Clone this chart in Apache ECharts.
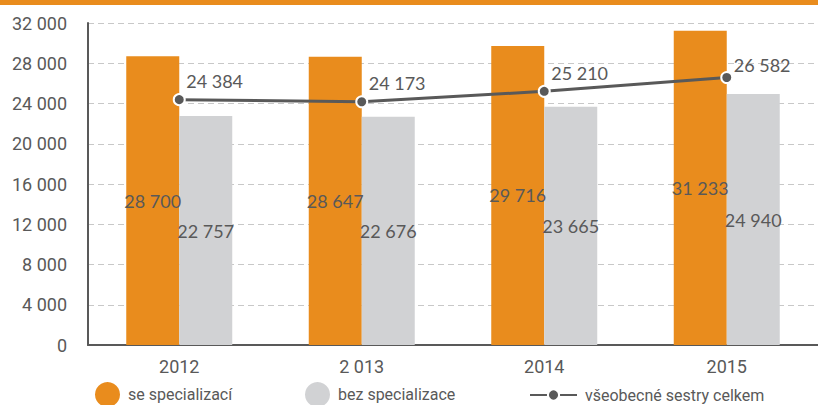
<!DOCTYPE html>
<html>
<head>
<meta charset="utf-8">
<script src="https://cdn.jsdelivr.net/npm/echarts@6/dist/echarts.min.js"></script>
<style>
  html, body { margin: 0; padding: 0; background: #fff; }
  #chart { width: 818px; height: 405px; }
</style>
</head>
<body>
<div id="chart"></div>
<script>
const years = ["2012", "2 013", "2014", "2015"];
const seSpecializaci = [28700, 28647, 29716, 31233];
const bezSpecializace = [22757, 22676, 23665, 24940];
const sestryCelkem = [24384, 24173, 25210, 26582];

const orange = "#E98C1D";
const grey = "#D1D2D4";
const dark = "#595959";

const fmt = (v) => {
  const s = String(Math.round(v));
  return s.replace(/\B(?=(\d{3})+(?!\d))/g, " ");
};

const chart = echarts.init(document.getElementById("chart"), null, { renderer: "svg" });

const legendText = { color: dark, fontFamily: "Roboto", fontSize: 16, padding: [0, 0, 0, 3] };

// last line label sits a bit closer to its point in the original
const lineData = sestryCelkem.map((v, i) =>
  i === sestryCelkem.length - 1 ? { value: v, label: { offset: [7, 8] } } : v
);

chart.setOption({
  animation: false,
  graphic: [
    { type: "rect", left: 0, top: 0, shape: { width: 818, height: 5 }, style: { fill: orange } }
  ],
  grid: { left: 88, right: -7, top: 23, bottom: 60, containLabel: false },
  legend: [
    { data: ["se specializací"], left: 95, top: 382, padding: 0, icon: "circle", itemWidth: 25, itemHeight: 25, textStyle: legendText },
    { data: ["bez specializace"], left: 305, top: 382, padding: 0, icon: "circle", itemWidth: 25, itemHeight: 25, textStyle: legendText },
    { data: ["všeobecné sestry celkem"], left: 529, top: 387, padding: 0, itemWidth: 47, itemHeight: 14, textStyle: legendText }
  ],
  xAxis: {
    type: "category",
    data: years,
    axisLine: { lineStyle: { color: dark, width: 2 } },
    axisTick: { show: false },
    axisLabel: { color: dark, fontFamily: "Roboto", fontSize: 18, margin: 12 }
  },
  yAxis: {
    type: "value",
    min: 0,
    max: 32000,
    interval: 4000,
    axisLine: { show: true, lineStyle: { color: dark, width: 2 } },
    axisTick: { show: false },
    axisLabel: { color: dark, fontFamily: "Roboto", fontSize: 18, margin: 21, formatter: fmt },
    splitLine: { lineStyle: { color: "#C8C8C8", type: [6, 4], width: 1 } }
  },
  series: [
    {
      name: "se specializací",
      type: "bar",
      data: seSpecializaci,
      barWidth: 53,
      barGap: "0%",
      itemStyle: { color: orange },
      label: { show: true, position: "inside", color: dark, fontFamily: "Lato", fontSize: 18, formatter: (p) => fmt(p.value) }
    },
    {
      name: "bez specializace",
      type: "bar",
      data: bezSpecializace,
      barWidth: 53,
      barGap: "0%",
      itemStyle: { color: grey },
      label: { show: true, position: "inside", color: dark, fontFamily: "Lato", fontSize: 18, formatter: (p) => fmt(p.value) }
    },
    {
      name: "všeobecné sestry celkem",
      type: "line",
      data: lineData,
      symbol: "circle",
      symbolSize: 11,
      lineStyle: { color: dark, width: 3 },
      itemStyle: { color: dark, borderColor: "#fff", borderWidth: 2 },
      label: {
        show: true, position: "top", align: "left", offset: [7, 2],
        color: dark, fontFamily: "Lato", fontSize: 18, formatter: (p) => fmt(p.value)
      },
      z: 5
    }
  ]
});
</script>
</body>
</html>
